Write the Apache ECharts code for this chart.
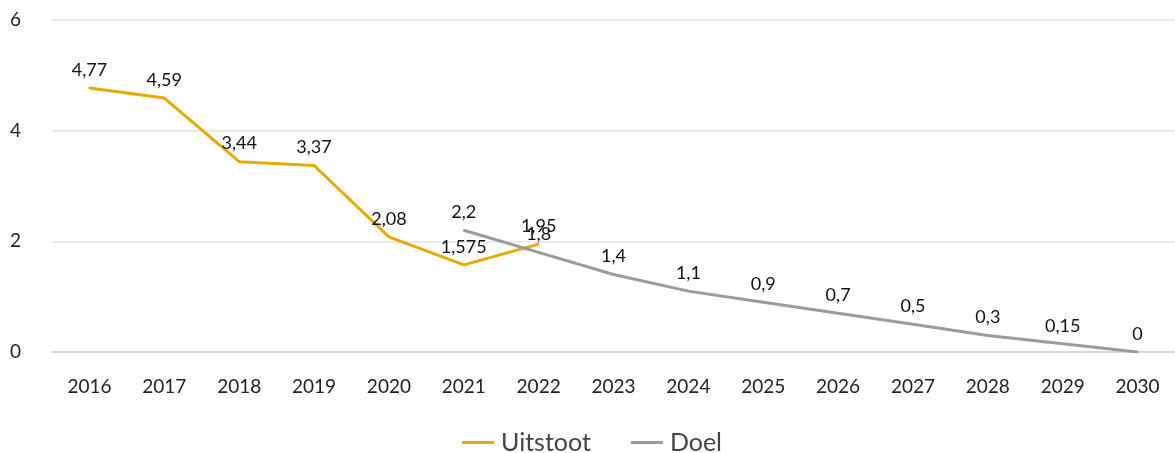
<!DOCTYPE html>
<html>
<head>
<meta charset="utf-8">
<script src="https://cdn.jsdelivr.net/npm/echarts@6/dist/echarts.min.js"></script>
<style>
  html, body { margin: 0; padding: 0; background: #fff; }
  #chart { width: 1175px; height: 453px; }
</style>
</head>
<body>
<div id="chart"></div>
<script>
// jaren op de x-as
const years = ['2016', '2017', '2018', '2019', '2020', '2021', '2022', '2023',
  '2024', '2025', '2026', '2027', '2028', '2029', '2030']
// gemeten uitstoot
const uitstoot = [4.77, 4.59, 3.44, 3.37, 2.08, 1.575, 1.95, null, null, null, null, null, null, null, null]
// doelpad
const doel = [null, null, null, null, null, 2.2, 1.8, 1.4, 1.1, 0.9, 0.7, 0.5, 0.3, 0.15, 0]

const font = 'Lato, "Noto Sans", sans-serif'
const fmt = p => String(p.value).replace('.', ',')

const lbl = { show: true, position: 'top', distance: 8, fontSize: 18, color: '#111', formatter: fmt }

const chart = echarts.init(document.getElementById('chart'))
chart.setOption({
  animation: false,
  textStyle: { fontFamily: font },
  grid: { left: 52, right: 0, top: 20, bottom: 101 },
  legend: {
    bottom: -7,
    left: 457,
    itemWidth: 32,
    itemHeight: 3,
    itemGap: 40,
    icon: 'rect',
    textStyle: { fontSize: 25, color: '#444', fontFamily: font, padding: [0, 0, 0, 2] },
    data: ['Uitstoot', 'Doel'],
  },
  xAxis: {
    type: 'category',
    data: years,
    boundaryGap: true,
    axisLine: { lineStyle: { color: '#c5d2e6', width: 1.5 } },
    axisTick: { show: false },
    axisLabel: { fontSize: 19, color: '#222', margin: 25 },
  },
  yAxis: {
    type: 'value',
    min: 0,
    max: 6,
    interval: 2,
    axisLine: { show: false },
    axisTick: { show: false },
    splitLine: { lineStyle: { color: '#e3e3e3', width: 1.5 } },
    axisLabel: { fontSize: 19, color: '#222', margin: 42, align: 'left' },
  },
  series: [
    {
      name: 'Uitstoot',
      type: 'line',
      data: uitstoot,
      showSymbol: true,
      symbol: 'circle',
      symbolSize: 2,
      lineStyle: { color: '#e9aa00', width: 3 },
      itemStyle: { color: '#e9aa00' },
      label: lbl,
    },
    {
      name: 'Doel',
      type: 'line',
      data: doel,
      showSymbol: true,
      symbol: 'circle',
      symbolSize: 2,
      lineStyle: { color: '#959d9a', width: 3 },
      itemStyle: { color: '#959d9a' },
      label: lbl,
    },
  ],
})
</script>
</body>
</html>
